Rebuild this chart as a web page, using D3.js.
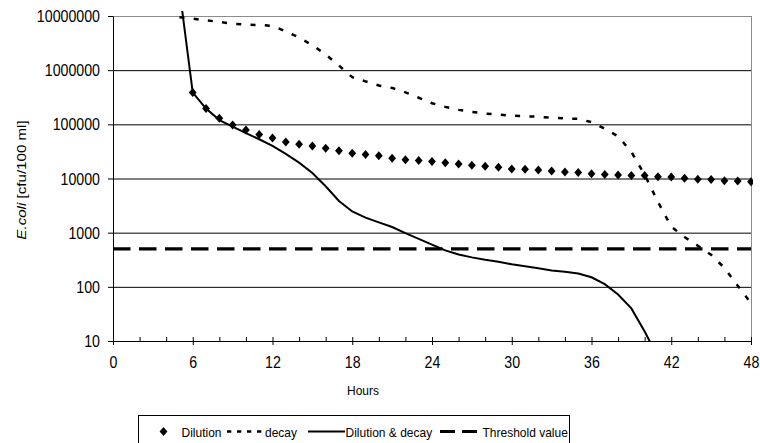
<!DOCTYPE html>
<html>
<head>
<meta charset="utf-8">
<script src="https://cdn.jsdelivr.net/npm/d3@7"></script>
<style>
body { margin: 0; background: #fff; }
svg { display: block; font-family: "Liberation Sans", Arial, sans-serif; }
</style>
</head>
<body>
<script>
// values
const dilutionHours = [6,7,8,9,10,11,12,13,14,15,16,17,18,19,20,21,22,23,24,25,26,27,28,29,30,31,32,33,34,35,36,37,38,39,40,41,42,43,44,45,46,47,48];
const dilutionValues = [385000,195000,129000,97000,79000,65000,56000,47000,43000,40000,36000,32700,29300,27600,26400,23700,22300,21400,20500,19600,18600,17600,16900,16200,15000,14800,14400,13700,13200,12900,12300,11800,11600,11400,11300,10800,10700,10100,9700,9600,9100,9000,8700];

const decayHours = [5,6,7,8,9,10,11,12,13,14,15,16,17,18,19,20,21,22,23,24,25,26,27,28,29,30,31,32,33,34,35,36,37,38,39,40,41,42,43,44,45,46,47,48];
const decayValues = [9500000,8900000,8300000,7800000,7200000,7000000,6800000,6600000,5200000,4000000,2900000,1950000,1220000,740000,620000,520000,470000,390000,310000,245000,210000,185000,170000,158000,151000,145000,141000,138000,132000,129000,126000,110000,83000,60000,31000,11700,3700,1290,830,575,390,224,105,50];

const bothHours = [5,6,7,8,9,10,11,12,13,14,15,16,17,18,19,20,21,22,23,24,25,26,27,28,29,30,31,32,33,34,35,36,37,38,39,40,41];
const bothValues = [31000000,385000,195000,120000,91000,69000,53000,40000,28500,19600,12600,7200,3850,2460,1900,1550,1270,980,770,600,470,395,350,315,290,260,240,220,200,190,176,150,112,72,40,15,5];

const thresholdHours = [0,48];
const thresholdValues = [500,500];

const xTicks = [0,6,12,18,24,30,36,42,48];
const xMinorTicks = [2,4,8,10,14,16,20,22,26,28,32,34,38,40,44,46];
const yTicks = [10,100,1000,10000,100000,1000000,10000000];
const legendLabels = ["Dilution","decay","Dilution & decay","Threshold value"];

const w = 760, h = 443;
const pLeft = 113, pRight = 751, pTop = 16, pBottom = 341;
const S = 1.12; // text in the picture is a little taller than wide

const svg = d3.select("body").append("svg")
    .attr("width", w)
    .attr("height", h);

const x = d3.scaleLinear().domain([0, 48]).range([pLeft, pRight]);
const y = d3.scaleLog().domain([10, 1e7]).range([pBottom, pTop]);

// gridlines
svg.append("g")
    .attr("transform", "translate(" + pLeft + ",0)")
    .call(d3.axisLeft(y).tickValues(yTicks).tickSize(-(pRight - pLeft)).tickFormat(""))
    .call(g => g.select(".domain").remove())
    .selectAll("line")
    .attr("stroke", d => d === 1e7 ? "#8c8c8c" : "#000");

// plot area border
svg.append("rect")
    .attr("x", pLeft + 0.5)
    .attr("y", pTop + 0.5)
    .attr("width", pRight - pLeft)
    .attr("height", pBottom - pTop)
    .attr("fill", "none")
    .attr("stroke", "#8c8c8c");

// series
svg.append("clipPath").attr("id", "clip")
    .append("rect")
    .attr("x", pLeft)
    .attr("y", pTop - 5)
    .attr("width", pRight - pLeft + 2)
    .attr("height", pBottom - pTop + 5);

const line = d3.line().x(d => x(d[0])).y(d => y(d[1]));
const plot = svg.append("g").attr("clip-path", "url(#clip)");

plot.append("path")
    .datum(d3.zip(thresholdHours, thresholdValues))
    .attr("d", line)
    .attr("fill", "none")
    .attr("stroke", "#000")
    .attr("stroke-width", 3.2)
    .attr("stroke-dasharray", "17.5,8.5");

plot.append("path")
    .datum(d3.zip(decayHours, decayValues))
    .attr("d", line)
    .attr("fill", "none")
    .attr("stroke", "#000")
    .attr("stroke-width", 2.5)
    .attr("stroke-dasharray", "5,9.3");

plot.append("path")
    .datum(d3.zip(bothHours, bothValues))
    .attr("d", line)
    .attr("fill", "none")
    .attr("stroke", "#000")
    .attr("stroke-width", 2);

const diamond = "M0,-4.5L3.9,0L0,4.5L-3.9,0Z";
plot.selectAll(".dot")
    .data(d3.zip(dilutionHours, dilutionValues))
    .enter()
    .append("path")
    .attr("class", "dot")
    .attr("d", diamond)
    .attr("transform", d => "translate(" + x(d[0]) + "," + y(d[1]) + ")")
    .attr("fill", "#000");

// y axis
const yAxis = svg.append("g")
    .attr("transform", "translate(" + pLeft + ",0)")
    .call(d3.axisLeft(y).tickValues(yTicks).tickFormat(d3.format("d")).tickSize(5).tickSizeOuter(0));
yAxis.attr("font-family", null).attr("font-size", 14.2);
yAxis.selectAll(".tick text")
    .attr("dy", null)
    .attr("x", -13)
    .attr("y", 5.6 / S)
    .attr("transform", "scale(1," + S + ")")
    .attr("fill", "#000");

// x axis: major ticks cross the axis, minor ticks point inward
const xAxis = svg.append("g")
    .attr("transform", "translate(0," + pBottom + ")")
    .call(d3.axisBottom(x).tickValues(xTicks).tickSize(4).tickSizeOuter(0));
xAxis.attr("font-family", null).attr("font-size", 14.2);
xAxis.selectAll(".tick line").attr("y1", -4);
xAxis.selectAll(".tick text")
    .attr("dy", null)
    .attr("y", 27 / S)
    .attr("transform", "scale(1," + S + ")")
    .attr("fill", "#000");

svg.append("g")
    .attr("transform", "translate(0," + pBottom + ")")
    .call(d3.axisBottom(x).tickValues(xMinorTicks).tickSize(-4).tickFormat("").tickSizeOuter(0))
    .call(g => g.select(".domain").remove());

// axis titles
svg.append("text")
    .attr("transform", "translate(363,395) scale(1," + S + ")")
    .attr("text-anchor", "middle")
    .attr("font-size", 12)
    .text("Hours");

const yTitle = svg.append("text")
    .attr("transform", "translate(26,180) rotate(-90) scale(" + S + ",1)")
    .attr("text-anchor", "middle")
    .attr("font-size", 13.5);
yTitle.append("tspan").attr("font-style", "italic").text("E.coli");
yTitle.append("tspan").text(" [cfu/100 ml]");

// legend
const legend = svg.append("g");
legend.append("rect")
    .attr("x", 138.5)
    .attr("y", 415.5)
    .attr("width", 431)
    .attr("height", 40)
    .attr("fill", "#fff")
    .attr("stroke", "#000");

const ly = 431.5;
legend.append("path")
    .attr("d", diamond)
    .attr("transform", "translate(163.5," + ly + ")");
legend.append("line")
    .attr("x1", 227).attr("x2", 263).attr("y1", ly).attr("y2", ly)
    .attr("stroke", "#000").attr("stroke-width", 2.5).attr("stroke-dasharray", "4.3,5.7");
legend.append("line")
    .attr("x1", 308).attr("x2", 345).attr("y1", ly).attr("y2", ly)
    .attr("stroke", "#000").attr("stroke-width", 2);
legend.append("line")
    .attr("x1", 440).attr("x2", 477).attr("y1", ly).attr("y2", ly)
    .attr("stroke", "#000").attr("stroke-width", 3.2).attr("stroke-dasharray", "15,7");

const textX = [181.5, 265, 345.5, 482.5];
legend.selectAll(".ltext")
    .data(legendLabels)
    .enter()
    .append("text")
    .attr("class", "ltext")
    .attr("transform", (d, i) => "translate(" + textX[i] + ",436.5) scale(1," + S + ")")
    .attr("font-size", 12)
    .text(d => d);
</script>
</body>
</html>
